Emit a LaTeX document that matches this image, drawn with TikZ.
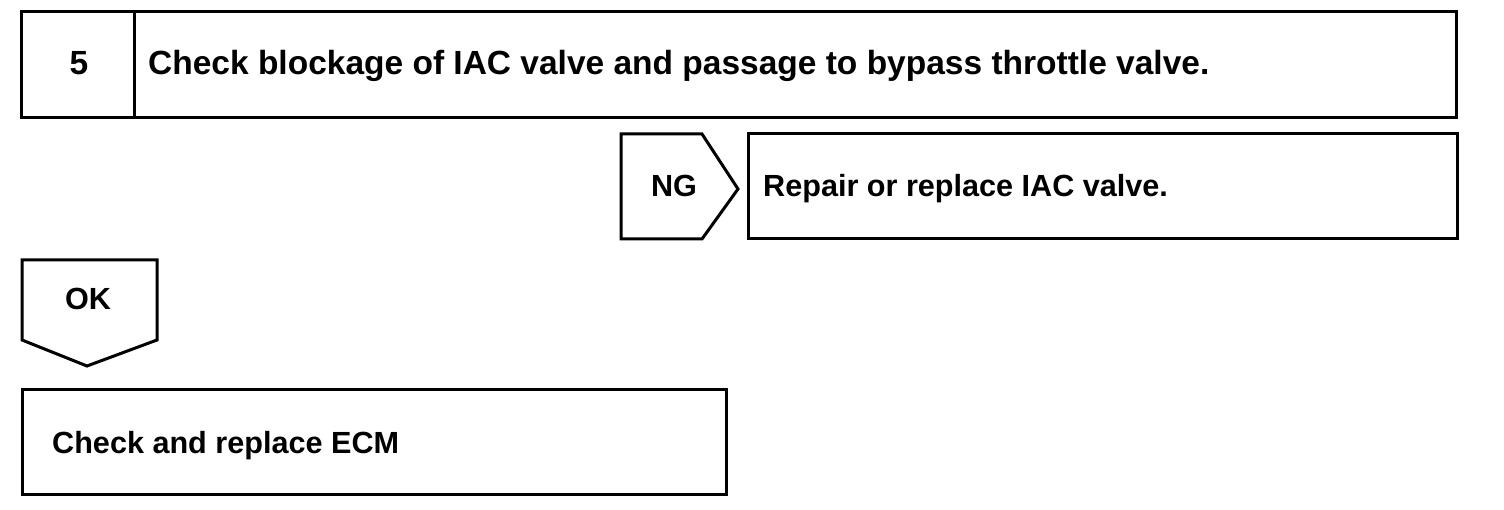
\documentclass[tikz,border=0pt]{standalone}
\usepackage{fontspec}
\setmainfont{Liberation Sans}
\begin{document}
\begin{tikzpicture}[x=1pt,y=-1pt,
  frame/.style={draw=black,line width=3pt,line join=miter},
  big/.style={font=\fontsize{33.5}{38}\selectfont\bfseries,inner sep=0pt},
  txt/.style={font=\fontsize{30.6}{34}\selectfont\bfseries,inner sep=0pt}]
\useasboundingbox (0,0) rectangle (1504,510);
% top box
\draw[frame] (21,12) rectangle (1456,118);
\draw[frame] (134,12) -- (134,118);
\node[big,anchor=base] (num) at (79,75) {5};
\node[big,anchor=base west] (step) at (148,75) {Check blockage of IAC valve and passage to bypass throttle valve.};
% NG pentagon
\draw[frame] (621,134) -- (702,134) -- (738,189) -- (702,239) -- (621,239) -- cycle;
\node[txt,anchor=base] (ng) at (674,197) {NG};
% repair box
\draw[frame] (748,134) rectangle (1457,239);
\node[txt,anchor=base west] (repair) at (763,197) {Repair or replace IAC valve.};
% OK pentagon
\draw[frame] (22,260) -- (157,260) -- (157,340) -- (87,366) -- (22,340) -- cycle;
\node[txt,anchor=base] (ok) at (88,310) {OK};
% ECM box
\draw[frame] (22,389) rectangle (726,494);
\node[txt,anchor=base west] (ecm) at (52,453) {Check and replace ECM};
\end{tikzpicture}
\end{document}
